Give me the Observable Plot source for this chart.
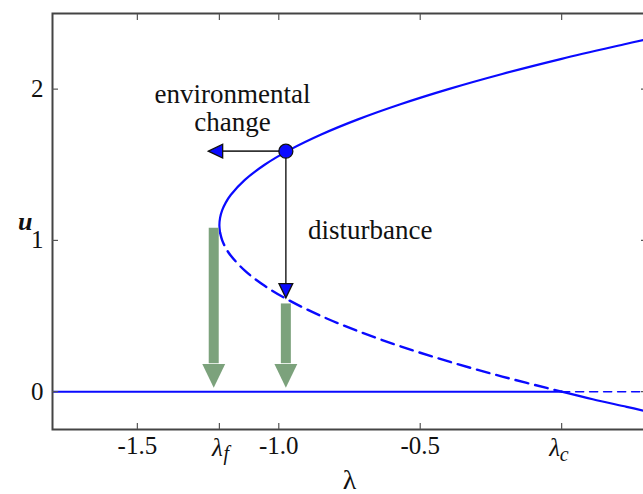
<!DOCTYPE html>
<html>
<head>
<meta charset="utf-8">
<script src="https://cdn.jsdelivr.net/npm/d3@7"></script>
<script src="https://cdn.jsdelivr.net/npm/@observablehq/plot@0.6"></script>
<style>
html,body{margin:0;padding:0;background:#fff;overflow:hidden}
#chart svg, #chart svg text { font-family: "Liberation Serif", "DejaVu Serif", serif !important; }
</style>
</head>
<body>
<div id="chart"></div>
<script>
// ---- data ----
const lambdaF = -1.21;
const lambdaC = 0;

// stable upper branch (solid)
const upperLambda = [-1.2075, -1.21, -1.2075, -1.20, -1.1875, -1.17, -1.12, -1.05, -0.96, -0.85, -0.72, -0.57, -0.40, -0.21, 0.00, 0.23, 0.30];
const upperU      = [1.05, 1.10, 1.15, 1.20, 1.25, 1.30, 1.40, 1.50, 1.60, 1.70, 1.80, 1.90, 2.00, 2.10, 2.20, 2.30, 2.33];

// unstable middle branch (dashed)
const middleLambda = [-1.2075, -1.20, -1.1875, -1.17, -1.12, -1.05, -0.96, -0.85, -0.72, -0.57, -0.40, -0.21, 0.00];
const middleU      = [1.05, 1.00, 0.95, 0.90, 0.80, 0.70, 0.60, 0.50, 0.40, 0.30, 0.20, 0.10, 0.00];

// negative branch beyond lambda_c (solid)
const lowerLambda = [0.00, 0.11, 0.23, 0.30];
const lowerU      = [0.00, -0.05, -0.10, -0.13];

// trivial branch u = 0
const trivialStableLambda = [-1.8, 0.0];
const trivialUnstableLambda = [0.0, 0.3];
const trivialU = [0, 0];

// tick values and labels
const xTickValues = [-1.5, -1.0, -0.5];
const xTickLabels = ["-1.5", "-1.0", "-0.5"];
const xTickMarks = [-1.5, lambdaF, -1.0, -0.5, lambdaC];
const yTickValues = [0, 1, 2];

// current state and arrows
const stateLambda = -0.975, stateU = 1.59;
const envTipLambda = -1.249, envBaseLambda = -1.20;
const distTipU = 0.62, distBaseU = 0.71;
const greenLambda = [-1.23, -0.975];
const greenTopU = [1.08, 0.58];
const greenBaseU = 0.185, greenTipU = 0.026;

// annotation texts
const noteText = ["environmental\nchange", "disturbance"];
const noteLambda = [-1.164, -0.677];
const noteU = [1.723, 1.01];

// ---- helpers ----
const pts = (xs, ys) => xs.map((x, i) => ({x, y: ys[i]}));
const blue = "#0a0aff";
const green = "#7ca27c";
const serif = "Liberation Serif";

// arrowhead symbol with tip at origin, pointing down
const head = {
  draw(ctx, size) {
    const r = Math.sqrt(size / Math.PI);
    const w = 2.6 * r, h = 2.7 * r;
    ctx.moveTo(0, 0);
    ctx.lineTo(-w / 2, -h);
    ctx.lineTo(w / 2, -h);
    ctx.closePath();
  }
};

const chart = Plot.plot({
  width: 643,
  height: 494,
  marginLeft: 52,
  marginRight: -3,
  marginTop: 13,
  marginBottom: 65,
  style: {fontFamily: serif, background: "#fff"},
  x: {domain: [-1.8, 0.3]},
  y: {domain: [-0.25, 2.5]},
  marks: [
    // curves
    Plot.line(pts(trivialStableLambda, trivialU), {x: "x", y: "y", stroke: blue, strokeWidth: 2, clip: true}),
    Plot.line(pts(trivialUnstableLambda, trivialU), {x: "x", y: "y", stroke: blue, strokeWidth: 1.6, strokeDasharray: "8,6", clip: true}),
    Plot.line(pts(lowerLambda, lowerU), {x: "x", y: "y", stroke: blue, strokeWidth: 2.2, clip: true, curve: "catmull-rom"}),
    Plot.line(pts(upperLambda, upperU), {x: "x", y: "y", stroke: blue, strokeWidth: 2.2, clip: true, curve: "catmull-rom"}),
    Plot.line(pts(middleLambda, middleU), {x: "x", y: "y", stroke: blue, strokeWidth: 2.4, strokeDasharray: "13,7", clip: true, curve: "catmull-rom"}),

    // green arrows
    Plot.ruleX(greenLambda.map((x, i) => ({x, top: greenTopU[i]})), {x: "x", y1: "top", y2: greenBaseU, stroke: green, strokeWidth: 10}),
    Plot.dot(greenLambda, {x: d => d, y: greenTipU, symbol: head, r: 8.8, fill: green, stroke: "none"}),

    // environmental change arrow (horizontal)
    Plot.link([{x1: stateLambda, x2: envBaseLambda}], {x1: "x1", x2: "x2", y1: stateU, y2: stateU, stroke: "#333", strokeWidth: 1.6}),
    Plot.dot([envTipLambda], {x: d => d, y: stateU, symbol: head, r: 5.3, rotate: 90, fill: blue, stroke: "#111", strokeWidth: 1.3}),

    // disturbance arrow (vertical)
    Plot.link([{y1: stateU, y2: distBaseU}], {x1: stateLambda, x2: stateLambda, y1: "y1", y2: "y2", stroke: "#333", strokeWidth: 1.6}),
    Plot.dot([distTipU], {x: stateLambda, y: d => d, symbol: head, r: 5.3, fill: blue, stroke: "#111", strokeWidth: 1.3}),

    // state dot
    Plot.dot([{x: stateLambda, y: stateU}], {x: "x", y: "y", r: 7, fill: blue, stroke: "#111", strokeWidth: 1.3}),

    // annotations
    Plot.text(noteText, {x: (d, i) => noteLambda[i], y: (d, i) => noteU[i], text: d => d, fontFamily: serif, fontSize: 27, lineHeight: 1.04, lineAnchor: "bottom", textAnchor: "middle", fill: "#111"}),

    // frame
    Plot.frame({stroke: "#444", strokeWidth: 2}),

    // inward ticks on all sides
    Plot.axisX(xTickMarks, {anchor: "bottom", tickSize: 6, dy: -6, text: null, stroke: "#555", strokeWidth: 1.2, label: null}),
    Plot.axisX(xTickMarks, {anchor: "top", tickSize: 6, dy: 6, text: null, stroke: "#555", strokeWidth: 1.2, label: null}),
    Plot.axisY(yTickValues, {anchor: "left", tickSize: 6, dx: 6, text: null, stroke: "#555", strokeWidth: 1.2, label: null}),
    Plot.axisY(yTickValues, {anchor: "right", tickSize: 6, dx: -6, text: null, stroke: "#555", strokeWidth: 1.2, label: null}),

    // tick labels
    Plot.axisX(xTickValues, {anchor: "bottom", tickSize: 0, tickPadding: 7, tickFormat: d => xTickLabels[xTickValues.indexOf(d)], fontFamily: serif, fontSize: 25, fill: "#111", label: null}),
    Plot.axisY(yTickValues, {anchor: "left", tickSize: 0, tickPadding: 9, tickFormat: d => String(d), fontFamily: serif, fontSize: 25, fill: "#111", label: null}),

    // lambda_f and lambda_c tick labels
    Plot.text([lambdaF], {x: d => d, frameAnchor: "bottom", text: () => "λ", lineAnchor: "bottom", dy: 26, dx: -2, fontFamily: serif, fontSize: 25, fontStyle: "italic", fill: "#111"}),
    Plot.text([lambdaF], {x: d => d, frameAnchor: "bottom", text: () => "f", lineAnchor: "bottom", textAnchor: "start", dy: 30, dx: 4, fontFamily: serif, fontSize: 20, fontStyle: "italic", fill: "#111"}),
    Plot.text([lambdaC], {x: d => d, frameAnchor: "bottom", text: () => "λ", lineAnchor: "bottom", dy: 26, dx: -7, fontFamily: serif, fontSize: 25, fontStyle: "italic", fill: "#111"}),
    Plot.text([lambdaC], {x: d => d, frameAnchor: "bottom", text: () => "c", lineAnchor: "bottom", textAnchor: "start", dy: 31, dx: -2, fontFamily: serif, fontSize: 20, fontStyle: "italic", fill: "#111"}),

    // axis titles
    Plot.text(["u"], {frameAnchor: "left", text: d => d, dx: -34.5, dy: 0, lineAnchor: "middle", fontFamily: serif, fontSize: 26, fontStyle: "italic", fontWeight: "bold", fill: "#111"}),
    Plot.text(["λ"], {frameAnchor: "bottom", text: d => d, dy: 59, lineAnchor: "bottom", fontFamily: serif, fontSize: 28, fill: "#111"})
  ]
});
document.getElementById("chart").appendChild(chart);
</script>
</body>
</html>
